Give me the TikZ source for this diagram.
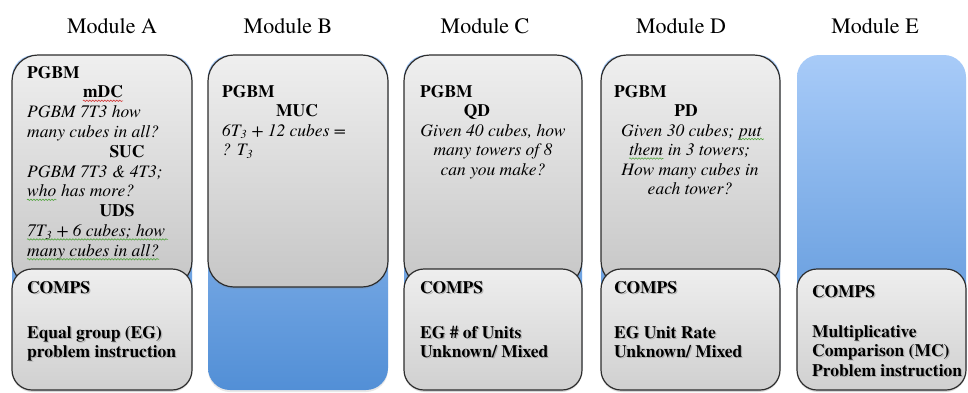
\documentclass[tikz,border=0pt]{standalone}
\usepackage{fontspec}
\setmainfont{texgyretermes}[Extension=.otf, UprightFont=*-regular, BoldFont=*-bold,
  ItalicFont=*-italic, BoldItalicFont=*-bolditalic]
\usetikzlibrary{shadows,decorations.pathmorphing}

\definecolor{blueTop}{RGB}{168,203,248}
\definecolor{blueMid}{RGB}{120,171,234}
\definecolor{blueBot}{RGB}{82,143,214}
\definecolor{greyTop}{RGB}{239,239,239}
\definecolor{greyBot}{RGB}{198,198,198}
\definecolor{compTop}{RGB}{238,238,238}
\definecolor{compBot}{RGB}{208,208,208}
\definecolor{edge}{RGB}{45,45,45}
\definecolor{spellred}{RGB}{210,50,50}
\definecolor{spellgreen}{RGB}{80,165,60}

% soft shadow behind bold labels
\newcommand\shadowed[1]{\makebox[0pt][l]{\hspace{1.3pt}\raisebox{-1.3pt}{\textcolor{black!30}{#1}}}#1}

\tikzset{
  column/.style={rounded corners=22pt, top color=blueTop, middle color=blueMid, bottom color=blueBot,
    drop shadow={opacity=0.18, shadow xshift=0pt, shadow yshift=-2pt}},
  card/.style={draw=edge, line width=1.2pt, rounded corners=26pt, top color=greyTop, bottom color=greyBot,
    drop shadow={opacity=0.18, shadow xshift=0pt, shadow yshift=-2pt}},
  compcard/.style={card, rounded corners=20pt, top color=compTop, bottom color=compBot},
  ttl/.style={font=\fontsize{22}{26}\selectfont, inner sep=0pt, anchor=base},
  txt/.style={font=\fontsize{17.5}{19.5}\selectfont, inner sep=0pt},
  lft/.style={txt, anchor=base west},
  ctr/.style={txt, anchor=base},
  blft/.style={lft, font=\fontsize{17.5}{19.5}\selectfont\bfseries},
  bctr/.style={ctr, font=\fontsize{17.5}{19.5}\selectfont\bfseries},
  ilft/.style={lft, font=\fontsize{17.5}{19.5}\selectfont\itshape},
  ictr/.style={ctr, font=\fontsize{17.5}{19.5}\selectfont\itshape},
  squig/.style={draw=#1, line width=0.6pt, decorate,
    decoration={snake, amplitude=0.7pt, segment length=3pt}},
}

\begin{document}
\begin{tikzpicture}[x=1pt, y=-1pt]
\useasboundingbox (0,0) rectangle (968,392);

% module titles
\node[ttl] (tA) at (112,33) {Module A};
\node[ttl] (tB) at (288,33) {Module B};
\node[ttl] (tC) at (485,33) {Module C};
\node[ttl] (tD) at (681,33) {Module D};
\node[ttl] (tE) at (875,33) {Module E};

% blue module columns
\path[column] (12,55) rectangle (192,390);
\path[column] (208,55) rectangle (388,390);
\path[column] (404,55) rectangle (582,390);
\path[column] (601,55) rectangle (780,390);
\path[column] (797,55) rectangle (966,390);

% PGBM cards
\path[card] (12,55) rectangle (192,287);
\path[card] (208,55) rectangle (388,287);
\path[card] (404,55) rectangle (582,287);
\path[card] (601,55) rectangle (780,287);

% COMPS cards
\path[compcard] (12,269) rectangle (192,390);
\path[compcard] (404,269) rectangle (582,390);
\path[compcard] (601,269) rectangle (780,390);
\path[compcard] (797,269) rectangle (966,390);

% Module A
\node[blft] (a0) at (27,78) {PGBM};
\node[bctr] (a1) at (103,97.8) {mDC};
\node[ilft] (a2) at (27,117.6) {PGBM 7T3 how};
\node[ilft] (a3) at (27,137.4) {many cubes in all?};
\node[bctr] (a4) at (127,157.2) {SUC};
\node[ilft] (a5) at (27,177) {PGBM 7T3 \& 4T3;};
\node[ilft] (a6w) at (27,196.8) {who};
\node[ilft, xshift=4.4pt] (a6) at (a6w.base east) {has more?};
\node[bctr] (a7) at (117,216.6) {UDS};
\node[ilft] (a8) at (27,236.4) {7T\textsubscript{3} + 6 cubes; how};
\node[ilft] (a9) at (27,256.2) {many cubes in all?};
\node[blft] (ac0) at (27,293) {\shadowed{COMPS}};
\node[blft] (ac1) at (27,338) {\shadowed{Equal group (EG)}};
\node[blft] (ac2) at (27,357.5) {\shadowed{problem instruction}};

% spell-check marks in module A
\draw[squig=spellred] ([yshift=-3pt]a1.base west) -- ([yshift=-3pt]a1.base east);
\draw[squig=spellgreen] ([yshift=-3pt]a6w.base west) -- ([yshift=-3pt]a6w.base east);
\draw[squig=spellgreen] ([yshift=-3pt]a8.base west) -- ([yshift=-3pt,xshift=3pt]a8.base east);
\draw[squig=spellgreen] ([yshift=-3pt]a9.base west) -- ([yshift=-3pt]a9.base east);

% Module B
\node[blft] (b0) at (222,97) {PGBM};
\node[bctr] (b1) at (297,116.5) {MUC};
\node[ilft] (b2) at (222,136) {6T\textsubscript{3} + 12 cubes =};
\node[ilft] (b3) at (222,155.5) {? T\textsubscript{3}};

% Module C
\node[blft] (c0) at (420,97) {PGBM};
\node[bctr] (c1) at (477,116.5) {QD};
\node[ictr] (c2) at (493,136) {Given 40 cubes, how};
\node[ictr] (c3) at (493,155.5) {many towers of 8};
\node[ictr] (c4) at (493,175) {can you make?};
\node[blft] (cc0) at (420,293) {\shadowed{COMPS}};
\node[blft] (cc1) at (420,338) {\shadowed{EG \# of Units}};
\node[blft] (cc2) at (420,357.5) {\shadowed{Unknown/ Mixed}};

% Module D
\node[blft] (d0) at (614,97) {PGBM};
\node[bctr] (d1) at (686,116.5) {PD};
\node[ilft] (d2) at (621,136) {Given 30 cubes;};
\node[ilft, xshift=4.4pt] (d2w) at (d2.base east) {put};
\node[ilft] (d3w) at (629,155.5) {them};
\node[ilft, xshift=4.4pt] (d3) at (d3w.base east) {in 3 towers;};
\node[ictr] (d4) at (690,175) {How many cubes in};
\node[ictr] (d5) at (690,194.5) {each tower?};
\node[blft] (dc0) at (614,293) {\shadowed{COMPS}};
\node[blft] (dc1) at (614,338) {\shadowed{EG Unit Rate}};
\node[blft] (dc2) at (614,357.5) {\shadowed{Unknown/ Mixed}};
\draw[squig=spellgreen] ([yshift=-3pt]d2w.base west) -- ([yshift=-3pt,xshift=2pt]d2w.base east);
\draw[squig=spellgreen] ([yshift=-3pt]d3w.base west) -- ([yshift=-3pt]d3w.base east);

% Module E
\node[blft] (ec0) at (812,297) {\shadowed{COMPS}};
\node[blft] (ec1) at (812,337) {\shadowed{Multiplicative}};
\node[blft] (ec2) at (812,356.5) {\shadowed{Comparison (MC)}};
\node[blft] (ec3) at (812,376) {\shadowed{Problem instruction}};
\end{tikzpicture}
\end{document}
